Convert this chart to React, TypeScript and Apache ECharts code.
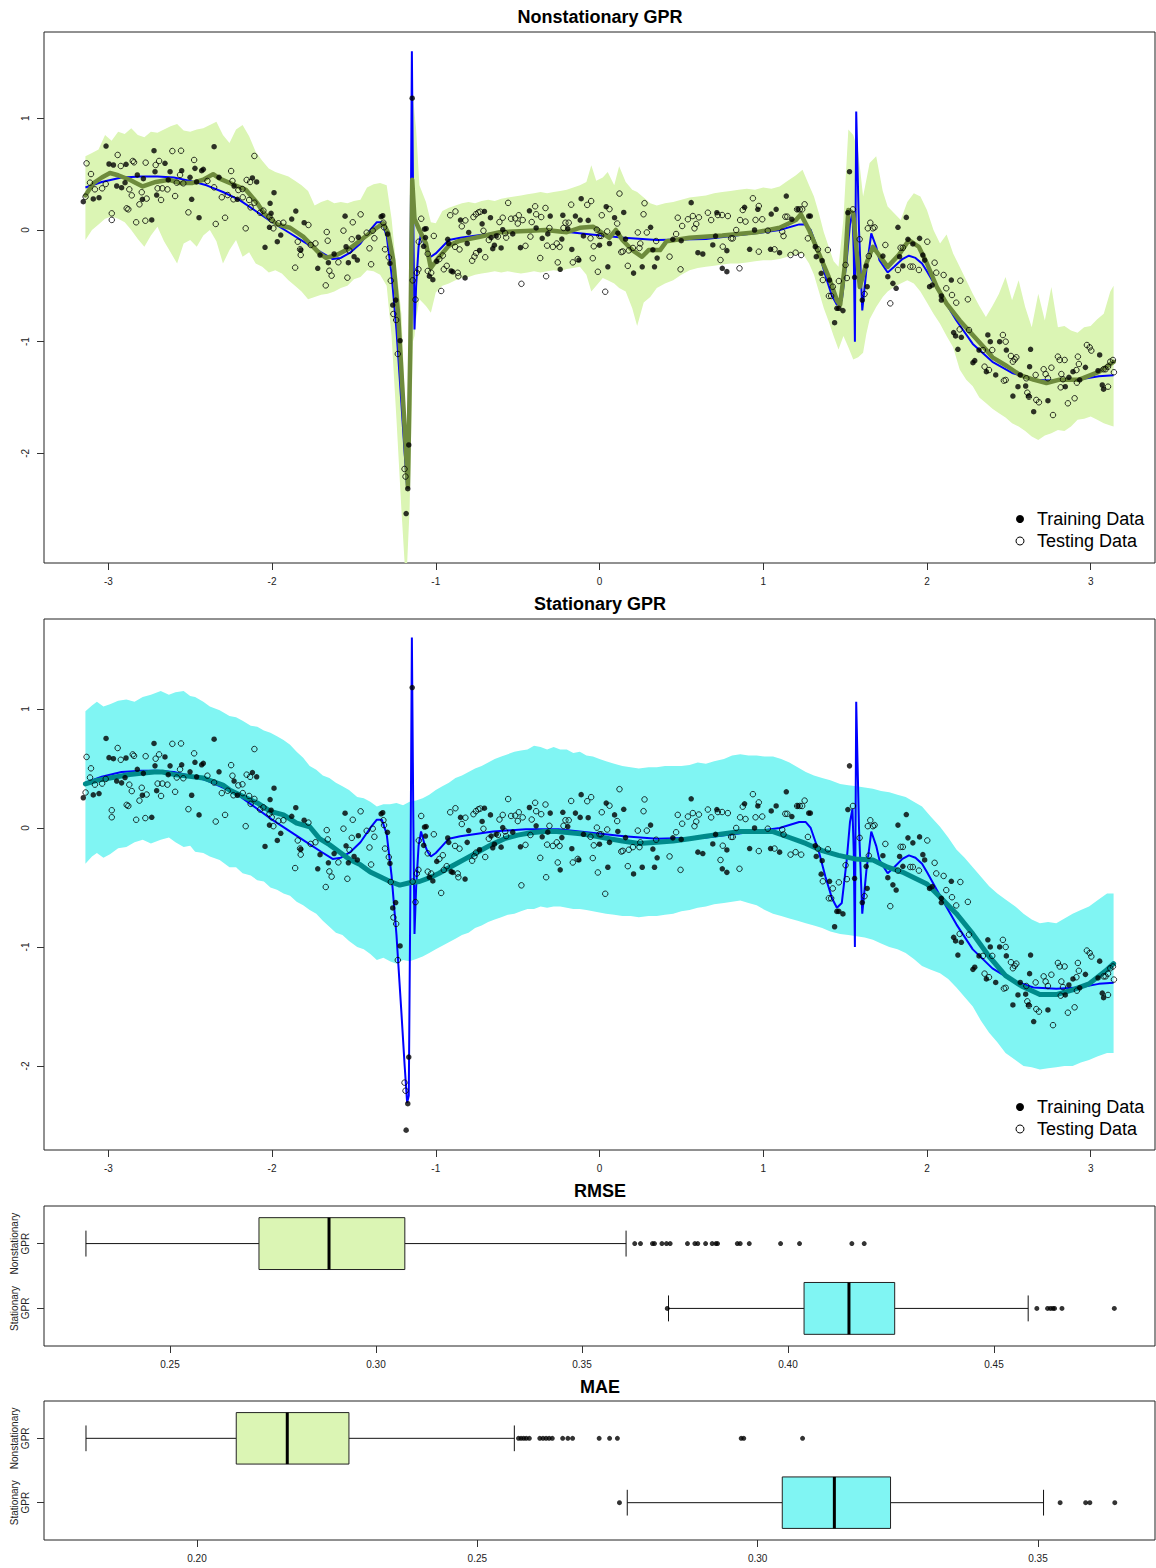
import React, { useEffect, useRef } from 'react';
import * as echarts from 'echarts';

const FONT = '"Liberation Sans", Arial, Helvetica, sans-serif';

// ---- Data ----
const trainData: [number, number][] = [
  [-3.153,0.254],[-3.092,0.278],[-3.057,0.289],[-3.014,0.752],[-2.996,0.591],[-2.969,0.582],[-2.949,0.394],[-2.919,0.379],[-2.898,0.424],[-2.892,0.588],
  [-2.823,0.493],[-2.786,0.459],[-2.792,0.275],[-2.735,0.090],[-2.721,0.710],[-2.715,0.522],[-2.705,0.313],[-2.654,0.597],[-2.634,0.448],[-2.623,0.522],
  [-2.552,0.531],[-2.501,0.472],[-2.491,0.275],[-2.471,0.552],[-2.461,0.430],[-2.446,0.110],[-2.430,0.531],[-2.420,0.543],[-2.354,0.746],[-2.324,0.472],
  [-2.232,0.394],[-2.212,0.275],[-2.120,0.466],[-2.094,0.430],[-2.043,-0.155],[-2.016,0.024],[-2.012,0.239],[-2.006,0.149],[-1.988,0.334],[-1.968,-0.105],
  [-1.947,-0.045],[-1.880,0.098],[-1.855,0.170],[-1.825,-0.179],[-1.804,0.065],[-1.721,-0.343],[-1.707,-0.224],[-1.656,-0.293],[-1.621,-0.215],[-1.554,0.124],
  [-1.548,-0.150],[-1.534,-0.293],[-1.499,-0.239],[-1.479,-0.269],[-1.473,-0.065],[-1.334,0.119],[-1.324,0.128],[-1.295,-0.036],[-1.280,-0.298],[-1.263,-0.672],
  [-1.245,-0.627],[-1.218,-0.991],[-1.144,1.180],[-1.165,-1.925],[-1.171,-2.317],[-1.181,-2.539],
  [-1.069,0.008],[-1.059,0.012],[-1.063,-0.068],[-1.074,-0.146],[-1.039,-0.414],[-1.018,-0.445],[-0.994,-0.281],[-0.921,-0.121],[-0.927,-0.084],[-0.906,-0.367],
  [-0.896,-0.374],[-0.849,0.089],[-0.821,-0.429],[-0.808,-0.121],[-0.799,-0.022],[-0.733,-0.183],[-0.717,0.055],[-0.703,0.166],[-0.666,0.110],[-0.662,-0.068],
  [-0.652,-0.167],[-0.642,-0.136],[-0.631,-0.053],[-0.601,-0.161],[-0.591,0.003],[-0.530,-0.035],[-0.483,-0.158],[-0.428,0.172],[-0.387,0.018],[-0.350,-0.074],
  [-0.316,-0.035],[-0.301,0.125],[-0.240,-0.352],[-0.230,-0.081],[-0.224,0.132],[-0.194,0.012],[-0.169,-0.174],[-0.147,0.125],[-0.126,-0.269],[-0.118,0.089],
  [-0.112,0.280],[-0.098,-0.053],[-0.069,0.086],[0.000,-0.136],[0.051,-0.330],[0.041,0.209],[0.061,-0.121],[0.092,0.110],[0.112,-0.029],[0.148,0.157],
  [0.159,-0.081],[0.208,-0.386],[0.261,-0.330],[0.312,0.024],[0.326,-0.177],[0.336,-0.330],[0.352,-0.251],
  [0.448,-0.083],[0.499,-0.096],[0.560,0.245],[0.601,-0.203],[0.631,-0.215],[0.692,-0.134],[0.709,-0.054],[0.717,0.155],[0.750,-0.343],[0.778,-0.185],
  [0.778,-0.373],[0.886,0.203],[0.917,-0.173],[0.947,0.000],[0.967,0.185],[1.049,0.143],[1.045,-0.173],[1.079,0.185],[1.100,-0.203],[1.141,0.304],
  [1.175,0.096],[1.212,0.185],[1.278,0.125],[1.288,0.125],[1.318,-0.149],[1.324,-0.239],[1.354,-0.388],[1.360,-0.275],[1.405,-0.448],[1.436,-0.830],
  [1.450,-0.701],[1.462,-0.701],[1.487,-0.722],[1.517,0.155],[1.527,0.522],[1.558,-0.424],[1.605,-0.627],[1.629,-0.322],[1.635,-0.508],[1.731,-0.233],
  [1.761,-0.418],[1.792,-0.478],[1.812,-0.522],[1.823,0.024],[1.833,-0.239],[1.853,-0.322],[1.874,0.113],[1.884,-0.083],[1.914,-0.125],[1.955,-0.075],
  [1.975,-0.224],[1.986,-0.269],[2.016,-0.508],[2.032,-0.493],[2.088,-0.591],[2.088,-0.627],[2.149,-0.448],[2.163,-0.919],[2.175,-0.949],[2.189,-1.068],
  [2.210,-0.961],[2.318,-1.075],[2.372,-0.940],[2.387,-1.000],[2.444,-1.000],[2.485,-1.075],
  [2.281,-1.188],[2.292,-1.170],[2.363,-1.269],[2.420,-1.298],[2.525,-1.487],[2.556,-1.403],[2.570,-1.298],[2.603,-1.397],[2.621,-1.487],[2.633,-1.068],
  [2.627,-1.224],[2.652,-1.627],[2.739,-1.529],[2.845,-1.403],[2.867,-1.319],[2.892,-1.269],[2.933,-1.343],[2.968,-1.230],[3.045,-1.260],[3.055,-1.119],
  [3.071,-1.388],[3.079,-1.426],
];

const testData: [number, number][] = [
  [-3.139,0.298],[-3.133,0.597],[-3.112,0.424],[-3.106,0.501],[-3.082,0.364],[-3.038,0.373],[-3.016,0.412],[-2.979,0.149],[-2.979,0.090],[-2.943,0.672],
  [-2.924,0.573],[-2.888,0.194],[-2.878,0.185],[-2.872,0.364],[-2.857,0.310],[-2.851,0.618],[-2.843,0.606],[-2.830,0.069],[-2.810,0.230],[-2.796,0.338],
  [-2.774,0.083],[-2.772,0.603],[-2.766,0.281],[-2.711,0.582],[-2.699,0.373],[-2.690,0.618],[-2.678,0.269],[-2.670,0.373],[-2.639,0.364],[-2.609,0.707],
  [-2.592,0.304],[-2.582,0.424],[-2.562,0.493],[-2.556,0.710],[-2.542,0.418],[-2.511,0.158],[-2.476,0.627],[-2.395,0.439],[-2.354,0.382],[-2.344,0.054],
  [-2.307,0.293],[-2.287,0.110],[-2.271,0.313],[-2.250,0.528],[-2.242,0.439],[-2.236,0.275],[-2.206,0.358],[-2.181,0.367],[-2.179,0.293],[-2.161,0.015],
  [-2.155,0.448],[-2.140,0.269],[-2.134,0.430],[-2.131,0.203],[-2.108,0.663],[-2.108,0.244],[-2.073,0.155],[-2.053,0.173],[-2.016,0.119],[-2.002,0.090],
  [-1.992,0.015],[-1.961,0.060],[-1.931,0.065],[-1.859,-0.337],[-1.843,-0.105],[-1.829,-0.173],[-1.825,-0.224],[-1.778,0.045],[-1.764,-0.134],[-1.735,-0.120],
  [-1.672,-0.496],[-1.666,-0.018],[-1.660,-0.096],[-1.650,-0.365],[-1.636,-0.409],[-1.595,-0.289],[-1.564,-0.006],[-1.540,-0.427],[-1.527,-0.185],[-1.513,-0.083],
  [-1.507,0.069],[-1.459,0.140],[-1.422,-0.024],[-1.405,-0.164],[-1.395,-0.307],[-1.385,-0.006],[-1.375,-0.074],[-1.320,0.065],[-1.316,0.024],[-1.310,-0.173],
  [-1.287,-0.245],[-1.275,-0.454],[-1.259,-0.752],[-1.242,-0.806],[-1.232,-1.110],
  [-1.191,-2.140],[-1.185,-2.208],[-1.141,-0.451],[-1.124,-0.623],[-1.116,-0.383],[-1.106,-0.352],[-1.104,-0.105],[-1.089,0.101],[-1.049,-0.213],[-1.049,-0.367],
  [-1.028,-0.383],[-1.012,-0.053],[-0.967,-0.546],[-0.978,-0.260],[-0.957,-0.229],[-0.951,-0.352],[-0.933,-0.321],[-0.912,0.132],[-0.880,0.166],[-0.882,-0.151],
  [-0.855,-0.174],[-0.866,-0.383],[-0.862,-0.414],[-0.841,0.033],[-0.819,0.086],[-0.778,-0.275],[-0.764,-0.238],[-0.754,-0.207],[-0.770,0.116],[-0.755,0.141],
  [-0.740,0.157],[-0.728,0.163],[-0.709,-0.007],[-0.698,-0.244],[-0.676,-0.090],[-0.621,-0.059],[-0.611,0.071],[-0.591,0.110],[-0.576,-0.029],[-0.570,-0.068],
  [-0.558,0.243],[-0.540,0.101],[-0.515,0.104],[-0.499,0.058],[-0.493,0.132],[-0.477,-0.482],[-0.469,0.089],[-0.452,-0.142],[-0.422,-0.059],[-0.414,0.071],
  [-0.393,0.212],[-0.387,0.141],[-0.356,0.116],[-0.362,-0.251],[-0.330,0.197],[-0.326,-0.414],[-0.320,-0.140],[-0.285,-0.151],[-0.306,0.018],[-0.255,-0.290],
  [-0.261,-0.121],[-0.244,-0.151],[-0.220,0.018],[-0.208,0.065],[-0.188,0.065],[-0.173,0.227],[-0.163,-0.290],[-0.133,-0.260],[-0.075,0.225],[-0.051,0.259],
  [-0.055,-0.074],[-0.041,-0.253],[-0.035,-0.146],[-0.016,0.003],[0.000,-0.053],[0.010,-0.053],[-0.010,-0.374],[0.014,0.132],[0.035,-0.553],[0.047,-0.013],
  [0.061,0.187],[0.108,0.058],[0.122,0.326],[0.133,-0.198],[0.142,-0.192],[0.173,-0.321],[0.179,-0.183],[0.204,-0.161],[0.244,-0.161],[0.234,-0.022],
  [0.249,-0.121],[0.269,0.141],[0.275,0.240],[0.289,-0.022],[0.346,-0.099],
  [0.428,-0.239],[0.468,-0.036],[0.478,0.110],[0.505,0.036],[0.495,-0.352],[0.540,0.096],[0.570,0.125],[0.580,0.015],[0.591,0.054],[0.607,0.113],
  [0.662,0.155],[0.682,0.089],[0.723,0.134],[0.749,0.134],[0.739,-0.269],[0.753,-0.149],[0.784,0.125],[0.804,-0.075],[0.814,-0.075],[0.835,0.000],
  [0.855,-0.343],[0.859,0.089],[0.875,0.179],[0.892,0.075],[0.937,0.284],[0.953,0.090],[0.973,0.215],[0.973,-0.194],[0.994,0.096],[1.028,-0.006],
  [1.069,-0.173],[1.116,-0.015],[1.124,-0.054],[1.135,0.119],[1.147,0.119],[1.167,-0.224],[1.198,-0.203],[1.232,-0.224],[1.207,0.185],[1.223,0.185],
  [1.238,0.185],[1.253,0.230],[1.273,-0.075],[1.334,-0.173],[1.364,-0.448],[1.395,-0.179],[1.401,-0.591],[1.415,-0.591],[1.425,-0.508],[1.462,-0.457],
  [1.511,-0.430],[1.503,-0.313],[1.548,0.185],[1.589,-0.083],[1.619,-0.573],[1.645,-0.233],[1.639,0.015],[1.654,0.065],[1.670,0.015],[1.680,0.024],
  [1.746,-0.134],[1.776,-0.657],[1.823,-0.358],[1.839,-0.159],[1.853,-0.159],[1.898,-0.328],[1.914,-0.328],[1.951,-0.358],[2.002,-0.105],[2.047,-0.293],
  [2.057,-0.382],[2.102,-0.403],[2.118,-0.522],[2.153,-0.582],[2.179,-0.651],[2.204,-0.454],[2.250,-0.621],[2.200,-0.890],[2.257,-0.896],[2.342,-1.075],
  [2.399,-1.075],[2.464,-0.940],[2.481,-1.000],
  [2.352,-1.224],[2.379,-1.254],[2.470,-1.349],[2.481,-1.343],[2.536,-1.158],[2.546,-1.140],[2.513,-1.128],[2.525,-1.179],[2.607,-1.328],[2.613,-1.457],
  [2.623,-1.493],[2.668,-1.522],[2.684,-1.543],[2.664,-1.298],[2.713,-1.247],[2.725,-1.290],[2.739,-1.328],[2.760,-1.233],[2.770,-1.657],[2.800,-1.134],
  [2.811,-1.164],[2.841,-1.164],[2.821,-1.290],[2.831,-1.337],[2.817,-1.409],[2.861,-1.552],[2.902,-1.507],[2.913,-1.254],[2.922,-1.134],[2.928,-1.200],
  [2.916,-1.367],[2.977,-1.030],[2.994,-1.051],[3.004,-1.080],[3.079,-1.247],[3.091,-1.247],[3.106,-1.224],[3.120,-1.179],[3.136,-1.164],[3.142,-1.274],
  [3.106,-1.403],
];

const trueFn: [number, number][] = [
  [-3.14,0.38],[-3.04,0.43],[-2.92,0.47],[-2.80,0.48],[-2.70,0.48],[-2.60,0.47],[-2.50,0.44],[-2.40,0.40],[-2.30,0.34],[-2.20,0.27],
  [-2.10,0.17],[-2.00,0.07],[-1.90,-0.02],[-1.80,-0.11],[-1.70,-0.20],[-1.63,-0.26],[-1.58,-0.25],[-1.52,-0.20],[-1.46,-0.12],[-1.40,0.00],
  [-1.36,0.07],[-1.33,0.07],[-1.30,-0.05],[-1.27,-0.40],[-1.24,-0.90],[-1.21,-1.55],[-1.19,-2.00],[-1.175,-2.31],[-1.165,-2.25],[-1.155,-0.50],
  [-1.146,1.60],[-1.138,0.20],[-1.130,-0.89],[-1.120,-0.50],[-1.105,-0.15],[-1.09,-0.03],[-1.07,-0.13],[-1.05,-0.20],[-1.03,-0.24],[-1.00,-0.21],
  [-0.96,-0.15],[-0.92,-0.09],[-0.85,-0.07],[-0.65,-0.03],[-0.45,-0.01],[-0.25,-0.01],[-0.05,-0.04],[0.15,-0.07],[0.35,-0.09],[0.65,-0.08],
  [0.95,-0.03],[1.10,0.00],[1.22,0.05],[1.26,0.05],[1.29,0.00],[1.34,-0.20],[1.38,-0.41],[1.42,-0.59],[1.45,-0.67],[1.48,-0.63],
  [1.51,-0.27],[1.53,0.05],[1.545,0.16],[1.553,-0.20],[1.560,-1.00],[1.568,1.06],[1.585,0.00],[1.605,-0.72],[1.63,-0.36],[1.66,-0.03],
  [1.69,-0.15],[1.71,-0.27],[1.76,-0.38],[1.80,-0.33],[1.85,-0.26],[1.89,-0.23],[1.93,-0.25],[1.97,-0.30],[2.00,-0.37],[2.08,-0.57],
  [2.18,-0.81],[2.28,-1.02],[2.40,-1.18],[2.52,-1.28],[2.65,-1.34],[2.79,-1.35],[2.93,-1.34],[3.05,-1.31],[3.14,-1.30],
];

const nsMean: [number, number][] = [
  [-3.14,0.31],[-3.09,0.42],[-3.04,0.47],[-2.99,0.51],[-2.94,0.49],[-2.87,0.45],[-2.79,0.39],[-2.71,0.43],[-2.63,0.45],[-2.56,0.42],
  [-2.49,0.42],[-2.42,0.45],[-2.36,0.50],[-2.32,0.46],[-2.24,0.41],[-2.16,0.36],[-2.09,0.24],[-2.05,0.15],[-1.97,0.05],[-1.89,0.02],
  [-1.81,-0.06],[-1.71,-0.21],[-1.67,-0.25],[-1.60,-0.22],[-1.52,-0.16],[-1.44,-0.07],[-1.36,0.02],[-1.32,0.06],[-1.29,-0.03],[-1.26,-0.27],
  [-1.23,-0.75],[-1.20,-1.52],[-1.17,-2.30],[-1.155,-1.00],[-1.144,0.45],[-1.13,0.10],[-1.10,0.00],[-1.06,-0.12],[-1.03,-0.34],[-0.99,-0.26],
  [-0.92,-0.14],[-0.86,-0.10],[-0.73,-0.06],[-0.61,-0.02],[-0.45,-0.01],[-0.33,0.00],[-0.20,-0.02],[-0.12,0.02],[-0.04,0.03],[0.00,-0.01],
  [0.06,-0.07],[0.10,0.00],[0.14,-0.09],[0.20,-0.18],[0.26,-0.24],[0.30,-0.18],[0.37,-0.18],[0.41,-0.10],[0.55,-0.07],[0.75,-0.05],
  [0.96,-0.02],[1.10,0.02],[1.20,0.09],[1.23,0.14],[1.28,0.00],[1.34,-0.21],[1.40,-0.42],[1.45,-0.63],[1.47,-0.67],[1.50,-0.30],
  [1.52,0.18],[1.55,0.15],[1.59,-0.51],[1.63,-0.30],[1.67,-0.15],[1.72,-0.25],[1.76,-0.33],[1.83,-0.22],[1.89,-0.09],[1.95,-0.15],
  [2.00,-0.30],[2.06,-0.51],[2.12,-0.66],[2.20,-0.81],[2.28,-0.94],[2.36,-1.07],[2.40,-1.14],[2.49,-1.22],[2.57,-1.30],[2.65,-1.34],
  [2.73,-1.37],[2.81,-1.34],[2.93,-1.34],[3.05,-1.27],[3.14,-1.18],
];

// [x, lower, upper]
const nsBand: [number, number, number][] = [
  [-3.14,-0.09,0.66],[-3.10,0.00,0.69],[-3.06,0.05,0.72],[-3.02,0.10,0.85],[-2.98,0.12,0.80],[-2.94,0.10,0.88],[-2.90,0.07,0.86],[-2.86,0.00,0.91],
  [-2.82,-0.08,0.85],[-2.78,-0.15,0.83],[-2.74,-0.05,0.88],[-2.70,0.03,0.87],[-2.66,-0.10,0.90],[-2.62,-0.20,0.93],[-2.58,-0.30,0.95],[-2.54,-0.12,0.89],
  [-2.50,-0.09,0.88],[-2.46,-0.15,0.90],[-2.42,-0.05,0.91],[-2.38,0.00,0.94],[-2.34,-0.10,0.97],[-2.30,-0.30,0.85],[-2.26,-0.18,0.78],[-2.22,-0.09,0.90],
  [-2.18,-0.24,0.94],[-2.14,-0.20,0.84],[-2.10,-0.30,0.70],[-2.06,-0.33,0.62],[-2.02,-0.38,0.55],[-1.98,-0.36,0.52],[-1.94,-0.39,0.50],[-1.90,-0.45,0.48],
  [-1.86,-0.50,0.44],[-1.82,-0.55,0.40],[-1.78,-0.62,0.35],[-1.74,-0.60,0.22],[-1.70,-0.58,0.25],[-1.66,-0.57,0.27],[-1.62,-0.55,0.24],[-1.58,-0.52,0.25],
  [-1.54,-0.50,0.24],[-1.50,-0.44,0.26],[-1.46,-0.42,0.27],[-1.42,-0.36,0.38],[-1.38,-0.37,0.41],[-1.34,-0.40,0.42],[-1.30,-0.50,0.40],[-1.27,-0.95,0.10],
  [-1.24,-1.70,-0.35],[-1.21,-2.50,-0.75],[-1.19,-2.99,-1.50],[-1.175,-2.99,-2.10],[-1.16,-2.50,-1.30],[-1.15,-1.80,0.50],[-1.14,-1.00,1.24],[-1.13,-0.95,1.05],
  [-1.12,-0.80,0.90],[-1.10,-0.62,0.40],[-1.06,-0.68,0.25],[-1.03,-0.74,0.07],[-1.00,-0.56,0.06],[-0.96,-0.50,0.17],[-0.92,-0.48,0.20],[-0.88,-0.45,0.22],
  [-0.84,-0.43,0.24],[-0.80,-0.42,0.25],[-0.76,-0.40,0.24],[-0.72,-0.39,0.26],[-0.68,-0.38,0.27],[-0.64,-0.37,0.26],[-0.60,-0.38,0.28],[-0.56,-0.37,0.29],
  [-0.52,-0.38,0.30],[-0.48,-0.39,0.31],[-0.44,-0.38,0.32],[-0.40,-0.37,0.33],[-0.36,-0.38,0.34],[-0.32,-0.37,0.33],[-0.28,-0.36,0.34],[-0.24,-0.37,0.35],
  [-0.20,-0.35,0.36],[-0.16,-0.34,0.38],[-0.12,-0.33,0.40],[-0.08,-0.40,0.43],[-0.05,-0.55,0.58],[-0.02,-0.50,0.44],[0.02,-0.43,0.47],[0.05,-0.45,0.52],
  [0.09,-0.48,0.40],[0.12,-0.52,0.57],[0.16,-0.55,0.43],[0.20,-0.70,0.36],[0.23,-0.86,0.34],[0.27,-0.65,0.29],[0.31,-0.60,0.24],[0.35,-0.52,0.22],
  [0.40,-0.48,0.24],[0.45,-0.45,0.25],[0.50,-0.40,0.27],[0.55,-0.36,0.29],[0.60,-0.34,0.30],[0.65,-0.33,0.31],[0.70,-0.32,0.33],[0.75,-0.31,0.34],
  [0.80,-0.30,0.35],[0.85,-0.30,0.36],[0.90,-0.29,0.37],[0.95,-0.28,0.36],[1.00,-0.27,0.38],[1.05,-0.27,0.37],[1.10,-0.26,0.39],[1.15,-0.24,0.44],
  [1.20,-0.22,0.49],[1.24,-0.21,0.54],[1.28,-0.30,0.40],[1.31,-0.40,0.30],[1.34,-0.55,0.15],[1.37,-0.70,-0.02],[1.40,-0.82,-0.15],[1.43,-0.95,-0.28],
  [1.46,-1.07,-0.33],[1.49,-0.95,0.10],[1.52,-1.05,0.90],[1.55,-1.16,0.85],[1.58,-1.14,0.70],[1.61,-1.10,0.30],[1.63,-0.93,0.45],[1.65,-0.80,0.60],
  [1.69,-0.69,0.66],[1.73,-0.60,0.35],[1.76,-0.55,0.21],[1.80,-0.51,0.15],[1.84,-0.48,0.09],[1.88,-0.45,0.25],[1.92,-0.48,0.33],[1.96,-0.55,0.30],
  [2.00,-0.65,0.18],[2.04,-0.75,0.00],[2.08,-0.84,-0.12],[2.12,-0.95,-0.04],[2.16,-1.05,-0.21],[2.20,-1.25,-0.33],[2.24,-1.34,-0.45],[2.28,-1.40,-0.57],
  [2.32,-1.50,-0.68],[2.36,-1.55,-0.78],[2.40,-1.60,-0.68],[2.44,-1.64,-0.57],[2.48,-1.68,-0.42],[2.52,-1.73,-0.63],[2.56,-1.76,-0.45],[2.60,-1.80,-0.69],
  [2.64,-1.85,-0.87],[2.68,-1.88,-0.57],[2.72,-1.84,-0.81],[2.76,-1.82,-0.51],[2.80,-1.79,-0.87],[2.84,-1.80,-0.86],[2.88,-1.76,-0.90],[2.92,-1.70,-0.92],
  [2.96,-1.69,-0.87],[3.00,-1.67,-0.86],[3.04,-1.70,-0.80],[3.08,-1.73,-0.75],[3.12,-1.75,-0.55],[3.14,-1.76,-0.50],
];

const stMean: [number, number][] = [
  [-3.14,0.37],[-3.07,0.40],[-2.99,0.42],[-2.87,0.45],[-2.80,0.46],[-2.72,0.47],[-2.67,0.47],[-2.60,0.45],[-2.54,0.44],[-2.42,0.42],
  [-2.30,0.36],[-2.26,0.32],[-2.17,0.26],[-2.09,0.21],[-2.01,0.14],[-1.93,0.11],[-1.85,0.04],[-1.77,0.01],[-1.71,-0.09],[-1.65,-0.14],
  [-1.58,-0.21],[-1.52,-0.27],[-1.46,-0.31],[-1.40,-0.37],[-1.34,-0.41],[-1.28,-0.45],[-1.22,-0.48],[-1.16,-0.46],[-1.10,-0.45],[-1.04,-0.42],
  [-0.98,-0.38],[-0.90,-0.32],[-0.82,-0.26],[-0.74,-0.20],[-0.66,-0.14],[-0.58,-0.09],[-0.50,-0.06],[-0.42,-0.04],[-0.34,-0.03],[-0.26,-0.03],
  [-0.18,-0.04],[-0.10,-0.05],[-0.02,-0.07],[0.06,-0.09],[0.14,-0.11],[0.24,-0.13],[0.35,-0.12],[0.45,-0.11],[0.55,-0.09],[0.65,-0.07],
  [0.75,-0.05],[0.86,-0.03],[0.96,-0.03],[1.06,-0.03],[1.16,-0.08],[1.26,-0.13],[1.36,-0.19],[1.46,-0.23],[1.56,-0.26],[1.67,-0.27],
  [1.76,-0.33],[1.85,-0.37],[1.94,-0.43],[2.00,-0.47],[2.08,-0.58],[2.18,-0.72],[2.28,-0.89],[2.38,-1.08],[2.48,-1.24],[2.58,-1.33],
  [2.69,-1.40],[2.79,-1.40],[2.89,-1.36],[2.99,-1.31],[3.10,-1.19],[3.14,-1.14],
];

const stBand: [number, number, number][] = [
  [-3.14,-0.30,0.98],[-3.10,-0.24,1.03],[-3.07,-0.21,1.06],[-3.03,-0.25,1.02],[-2.99,-0.22,1.04],[-2.94,-0.17,1.07],[-2.89,-0.16,1.08],[-2.84,-0.12,1.06],
  [-2.79,-0.10,1.10],[-2.74,-0.13,1.12],[-2.68,-0.10,1.15],[-2.63,-0.08,1.12],[-2.59,-0.12,1.14],[-2.54,-0.16,1.15],[-2.50,-0.15,1.11],[-2.47,-0.20,1.10],
  [-2.42,-0.21,1.06],[-2.38,-0.24,1.02],[-2.32,-0.27,0.99],[-2.26,-0.33,0.94],[-2.22,-0.33,0.93],[-2.18,-0.38,0.90],[-2.13,-0.40,0.86],[-2.09,-0.44,0.85],
  [-2.05,-0.45,0.82],[-2.01,-0.50,0.80],[-1.97,-0.52,0.77],[-1.93,-0.55,0.74],[-1.89,-0.57,0.70],[-1.85,-0.62,0.64],[-1.81,-0.65,0.59],[-1.77,-0.69,0.52],
  [-1.73,-0.72,0.49],[-1.69,-0.78,0.44],[-1.65,-0.83,0.42],[-1.61,-0.88,0.38],[-1.57,-0.90,0.35],[-1.53,-0.95,0.32],[-1.48,-1.00,0.26],[-1.44,-1.02,0.25],
  [-1.40,-1.06,0.22],[-1.36,-1.11,0.18],[-1.32,-1.09,0.20],[-1.28,-1.12,0.20],[-1.24,-1.14,0.21],[-1.20,-1.11,0.19],[-1.16,-1.12,0.22],[-1.12,-1.10,0.23],
  [-1.08,-1.08,0.25],[-1.04,-1.05,0.28],[-1.00,-1.02,0.32],[-0.96,-0.99,0.35],[-0.92,-0.96,0.38],[-0.88,-0.93,0.42],[-0.84,-0.90,0.44],[-0.80,-0.88,0.47],
  [-0.76,-0.84,0.50],[-0.72,-0.82,0.52],[-0.68,-0.79,0.55],[-0.64,-0.77,0.58],[-0.60,-0.75,0.60],[-0.56,-0.73,0.62],[-0.52,-0.72,0.64],[-0.48,-0.70,0.65],
  [-0.44,-0.68,0.66],[-0.40,-0.68,0.69],[-0.36,-0.66,0.68],[-0.32,-0.67,0.66],[-0.28,-0.66,0.68],[-0.24,-0.66,0.66],[-0.20,-0.67,0.66],[-0.16,-0.68,0.63],
  [-0.12,-0.68,0.64],[-0.08,-0.69,0.61],[-0.04,-0.70,0.60],[0.00,-0.71,0.58],[0.04,-0.72,0.56],[0.09,-0.73,0.54],[0.14,-0.74,0.52],[0.19,-0.74,0.51],
  [0.24,-0.75,0.50],[0.30,-0.74,0.51],[0.35,-0.74,0.51],[0.40,-0.73,0.52],[0.45,-0.72,0.52],[0.50,-0.70,0.52],[0.55,-0.69,0.53],[0.60,-0.67,0.55],
  [0.65,-0.66,0.54],[0.70,-0.64,0.56],[0.76,-0.63,0.58],[0.81,-0.62,0.61],[0.86,-0.61,0.62],[0.91,-0.63,0.61],[0.96,-0.65,0.61],[1.01,-0.69,0.60],
  [1.06,-0.72,0.60],[1.11,-0.74,0.58],[1.16,-0.76,0.55],[1.21,-0.78,0.51],[1.26,-0.80,0.47],[1.31,-0.82,0.44],[1.36,-0.84,0.42],[1.41,-0.87,0.40],
  [1.47,-0.89,0.37],[1.52,-0.90,0.36],[1.57,-0.91,0.35],[1.62,-0.92,0.34],[1.67,-0.94,0.33],[1.72,-0.97,0.31],[1.77,-1.00,0.30],[1.82,-1.02,0.28],
  [1.87,-1.05,0.26],[1.92,-1.10,0.22],[1.97,-1.16,0.18],[2.02,-1.19,0.10],[2.08,-1.22,0.01],[2.13,-1.27,-0.08],[2.18,-1.34,-0.18],[2.23,-1.42,-0.25],
  [2.28,-1.50,-0.33],[2.33,-1.62,-0.41],[2.38,-1.72,-0.49],[2.43,-1.80,-0.55],[2.48,-1.89,-0.60],[2.54,-1.95,-0.66],[2.59,-2.00,-0.72],[2.64,-2.01,-0.77],
  [2.69,-2.03,-0.80],[2.74,-2.02,-0.79],[2.79,-2.01,-0.80],[2.84,-2.00,-0.76],[2.89,-2.00,-0.72],[2.94,-1.97,-0.69],[2.99,-1.95,-0.66],[3.04,-1.92,-0.61],
  [3.10,-1.89,-0.55],[3.14,-1.89,-0.55],
];

const xTicks = [-3, -2, -1, 0, 1, 2, 3];
const nsYTicks = [-2, -1, 0, 1];
const stYTicks = [-2, -1, 0, 1];

// Box plot stats: [lower whisker, Q1, median, Q3, upper whisker]
const rmseNs = [0.2296, 0.2716, 0.2886, 0.3070, 0.3607];
const rmseSt = [0.3710, 0.4039, 0.4148, 0.4259, 0.4583];
const rmseNsOut = [0.3628,0.3642,0.3671,0.3676,0.3694,0.3705,0.3714,0.3756,0.3774,0.3781,0.3800,0.3816,0.3825,0.3829,0.3877,0.3884,0.3906,0.3982,0.4028,0.4155,0.4185];
const rmseStOut = [0.3707,0.4604,0.4630,0.4637,0.4643,0.4647,0.4665,0.4792];
const rmseTicks = [0.25, 0.30, 0.35, 0.40, 0.45];

const maeNs = [0.1802, 0.2070, 0.2161, 0.2271, 0.2566];
const maeSt = [0.27674, 0.30439, 0.31368, 0.3237, 0.35099];
const maeNsOut = [0.25734,0.2578,0.25827,0.25873,0.25928,0.26114,0.26171,0.26226,0.26281,0.26337,0.26522,0.26615,0.26699,0.27173,0.27359,0.27498,0.29706,0.29752,0.30801];
const maeStOut = [0.27535,0.35395,0.3585,0.35925,0.3637];
const maeTicks = [0.20, 0.25, 0.30, 0.35];

const boxGroups = ['Stationary\nGPR', 'Nonstationary\nGPR']; // positions 1, 2

const GREEN_BAND = '#dbf5b4';
const CYAN_BAND = '#80f5f3';
const OLIVE = '#6e8b3d';
const TEAL = '#008b8b';
const BLUE = '#0000ff';

function bandSeries(band: [number, number, number][], idx: number, fill: string) {
  return {
    type: 'custom',
    xAxisIndex: idx,
    yAxisIndex: idx,
    clip: true,
    z: 1,
    silent: true,
    data: [[band[0][0], band[0][1]]],
    renderItem: (_p: any, api: any) => {
      const pts: number[][] = [];
      for (let i = 0; i < band.length; i++) pts.push(api.coord([band[i][0], band[i][2]]));
      for (let i = band.length - 1; i >= 0; i--) pts.push(api.coord([band[i][0], band[i][1]]));
      return { type: 'polygon', shape: { points: pts }, style: { fill, stroke: null } };
    },
  };
}

function boxSeries(stats: number[], pos: number, idx: number, fill: string) {
  return {
    type: 'custom',
    xAxisIndex: idx,
    yAxisIndex: idx,
    z: 3,
    encode: { x: [1, 2, 3, 4, 5], y: 0 },
    data: [[pos, ...stats]],
    renderItem: (_p: any, api: any) => {
      const p = api.value(0);
      const c = (v: number) => api.coord([v, p]);
      const h = Math.abs(api.size([0, 0.8])[1]);
      const a = c(api.value(1)), q1 = c(api.value(2)), md = c(api.value(3)), q3 = c(api.value(4)), b = c(api.value(5));
      const y = a[1];
      const st = { stroke: '#111', lineWidth: 1 };
      return {
        type: 'group',
        children: [
          { type: 'line', shape: { x1: a[0], y1: y, x2: q1[0], y2: y }, style: st },
          { type: 'line', shape: { x1: q3[0], y1: y, x2: b[0], y2: y }, style: st },
          { type: 'line', shape: { x1: a[0], y1: y - h / 4, x2: a[0], y2: y + h / 4 }, style: st },
          { type: 'line', shape: { x1: b[0], y1: y - h / 4, x2: b[0], y2: y + h / 4 }, style: st },
          { type: 'rect', shape: { x: q1[0], y: y - h / 2, width: q3[0] - q1[0], height: h }, style: { fill, stroke: '#222', lineWidth: 1 } },
          { type: 'line', shape: { x1: md[0], y1: y - h / 2, x2: md[0], y2: y + h / 2 }, style: { stroke: '#000', lineWidth: 3 } },
        ],
      };
    },
  };
}

function outlierSeries(vals: number[], pos: number, idx: number) {
  return {
    type: 'scatter',
    xAxisIndex: idx,
    yAxisIndex: idx,
    z: 4,
    symbol: 'circle',
    symbolSize: 5,
    itemStyle: { color: '#000' },
    data: vals.map((v) => [v, pos]),
  };
}

function xAxis(idx: number, min: number, max: number, ticks: number[], fmt: (v: number) => string) {
  return {
    type: 'value',
    gridIndex: idx,
    min,
    max,
    axisLine: { show: false, onZero: false },
    splitLine: { show: false },
    axisTick: { show: true, length: 7, customValues: ticks, lineStyle: { color: '#333', width: 1 } },
    axisLabel: { customValues: ticks, formatter: fmt, fontSize: 10, color: '#222', margin: 13, fontFamily: FONT },
  };
}

function yAxis(idx: number, min: number, max: number, ticks: number[], fmt: (v: number) => string) {
  return {
    type: 'value',
    gridIndex: idx,
    min,
    max,
    axisLine: { show: false, onZero: false },
    splitLine: { show: false },
    axisTick: { show: true, length: 7, customValues: ticks, lineStyle: { color: '#333', width: 1 } },
    axisLabel: { customValues: ticks, formatter: fmt, rotate: 90, fontSize: 10, color: '#222', margin: 13, fontFamily: FONT, lineHeight: 11 },
  };
}

function scatterPanel(idx: number, mean: [number, number][], meanColor: string, meanWidth: number) {
  return [
    {
      type: 'line', xAxisIndex: idx, yAxisIndex: idx, z: 2, data: trueFn,
      showSymbol: false, symbol: 'none', silent: true,
      lineStyle: { color: BLUE, width: 2 },
    },
    {
      type: 'line', xAxisIndex: idx, yAxisIndex: idx, z: 3, data: mean,
      showSymbol: false, symbol: 'none', silent: true,
      lineStyle: { color: meanColor, width: meanWidth, join: 'round', cap: 'round' },
    },
    {
      type: 'scatter', xAxisIndex: idx, yAxisIndex: idx, z: 4, data: trainData,
      symbol: 'circle', symbolSize: 5.5, itemStyle: { color: '#000' },
    },
    {
      type: 'scatter', xAxisIndex: idx, yAxisIndex: idx, z: 5, data: testData,
      symbol: 'circle', symbolSize: 5.5,
      itemStyle: { color: 'rgba(0,0,0,0)', borderColor: '#000', borderWidth: 1 },
    },
  ];
}

function legendGraphics(cy: number) {
  const fs = 18;
  return [
    { type: 'circle', shape: { cx: 1020, cy: cy, r: 4 }, style: { fill: '#000' }, z: 100 },
    { type: 'text', x: 1037, y: cy, style: { text: 'Training Data', fontSize: fs, fontFamily: FONT, fill: '#000', verticalAlign: 'middle', align: 'left' }, z: 100 },
    { type: 'circle', shape: { cx: 1020, cy: cy + 22, r: 4 }, style: { fill: 'none', stroke: '#000', lineWidth: 1 }, z: 100 },
    { type: 'text', x: 1037, y: cy + 22, style: { text: 'Testing Data', fontSize: fs, fontFamily: FONT, fill: '#000', verticalAlign: 'middle', align: 'left' }, z: 100 },
  ];
}

function titleGraphic(text: string, y: number) {
  return {
    type: 'text', x: 600, y,
    style: { text, fontSize: 18, fontWeight: 'bold', fontFamily: FONT, fill: '#000', align: 'center', verticalAlign: 'middle' },
    z: 100,
  };
}

export default function App() {
  const ref = useRef<HTMLDivElement>(null);
  useEffect(() => {
    if (!ref.current) return;
    const chart = echarts.init(ref.current, undefined, { renderer: 'svg' });
    const gridBase = { left: 44, width: 1111, show: true, borderColor: '#222', borderWidth: 1, backgroundColor: 'transparent' };
    const numFmt = (v: number) => String(Math.round(v));
    const fix2 = (v: number) => v.toFixed(2);
    const boxFmt = (v: number) => boxGroups[Math.round(v) - 1] || '';
    const option: any = {
      animation: false,
      backgroundColor: '#fff',
      grid: [
        { ...gridBase, top: 32, height: 531 },
        { ...gridBase, top: 619, height: 531 },
        { ...gridBase, top: 1206, height: 140 },
        { ...gridBase, top: 1401, height: 139 },
      ],
      xAxis: [
        xAxis(0, -3.393, 3.393, xTicks, numFmt),
        xAxis(1, -3.393, 3.393, xTicks, numFmt),
        xAxis(2, 0.21942, 0.48908, rmseTicks, fix2),
        xAxis(3, 0.17271, 0.37087, maeTicks, fix2),
      ],
      yAxis: [
        yAxis(0, -2.982, 1.773, nsYTicks, numFmt),
        yAxis(1, -2.706, 1.756, stYTicks, numFmt),
        yAxis(2, 0.42, 2.58, [1, 2], boxFmt),
        yAxis(3, 0.42, 2.58, [1, 2], boxFmt),
      ],
      series: [
        bandSeries(nsBand, 0, GREEN_BAND),
        ...scatterPanel(0, nsMean, OLIVE, 4.5),
        bandSeries(stBand, 1, CYAN_BAND),
        ...scatterPanel(1, stMean, TEAL, 5),
        boxSeries(rmseNs, 2, 2, GREEN_BAND),
        boxSeries(rmseSt, 1, 2, CYAN_BAND),
        outlierSeries(rmseNsOut, 2, 2),
        outlierSeries(rmseStOut, 1, 2),
        boxSeries(maeNs, 2, 3, GREEN_BAND),
        boxSeries(maeSt, 1, 3, CYAN_BAND),
        outlierSeries(maeNsOut, 2, 3),
        outlierSeries(maeStOut, 1, 3),
      ],
      graphic: [
        titleGraphic('Nonstationary GPR', 17),
        titleGraphic('Stationary GPR', 604),
        titleGraphic('RMSE', 1191),
        titleGraphic('MAE', 1387),
        ...legendGraphics(519),
        ...legendGraphics(1107),
      ],
    };
    chart.setOption(option);
    return () => chart.dispose();
  }, []);
  return <div ref={ref} style={{ position: 'absolute', left: 0, top: 0, width: 1156, height: 1568, background: '#fff' }} />;
}
